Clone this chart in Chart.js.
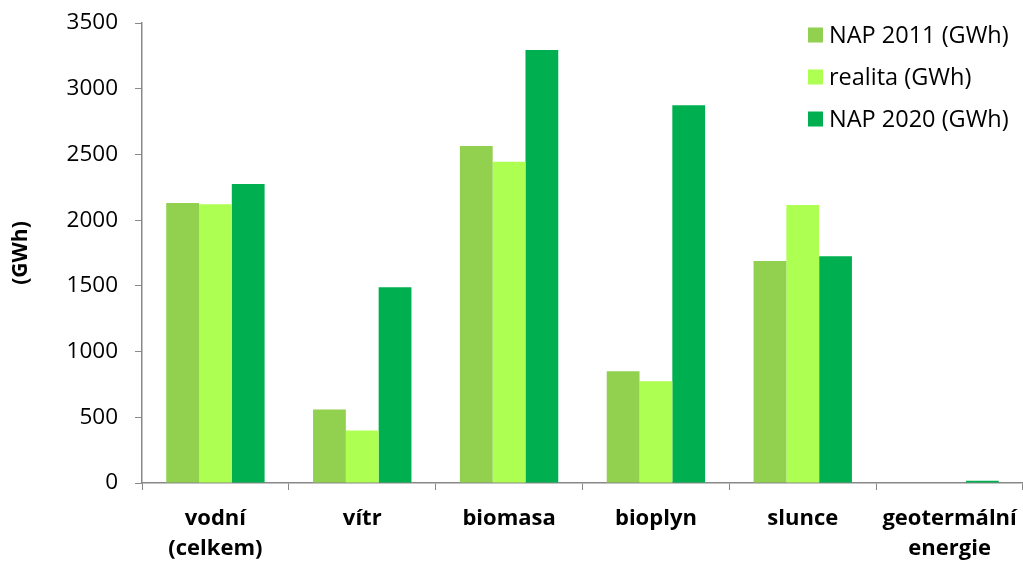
<!DOCTYPE html>
<html>
<head>
<meta charset="utf-8">
<script src="https://cdn.jsdelivr.net/npm/chart.js@4"></script>
<style>
html,body{margin:0;padding:0;background:#fff;}
#wrap{position:relative;width:1023px;height:561px;}
</style>
</head>
<body>
<div id="wrap"><canvas id="c" width="1023" height="561"></canvas></div>
<script>
const categories = [['vodní','(celkem)'], 'vítr', 'biomasa', 'bioplyn', 'slunce', ['geotermální','energie']];
const seriesNames = ['NAP 2011 (GWh)', 'realita (GWh)', 'NAP 2020 (GWh)'];
const nap2011 = [2130, 560, 2565, 850, 1690, 0];
const realita = [2120, 400, 2445, 775, 2115, 0];
const nap2020 = [2275, 1490, 3295, 2875, 1725, 18];
const yTicks = [0, 500, 1000, 1500, 2000, 2500, 3000, 3500];
const yTitle = '(GWh)';
const colors = ['#92D050', '#ADFF52', '#00B050'];

const FONT = "'Open Sans', sans-serif";

const customLegend = {
  id: 'customLegend',
  afterDraw(chart) {
    const ctx = chart.ctx;
    ctx.save();
    ctx.font = '23.5px ' + FONT;
    ctx.textBaseline = 'middle';
    ctx.textAlign = 'left';
    const x0 = 808, y0 = 35, gap = 42, box = 15;
    chart.data.datasets.forEach((ds, i) => {
      const y = y0 + i * gap;
      ctx.fillStyle = ds.backgroundColor;
      ctx.fillRect(x0, y - box / 2, box, box);
      ctx.fillStyle = '#000';
      ctx.fillText(ds.label, x0 + 21, y + 1);
    });
    ctx.restore();
  }
};

const data = {
  labels: categories,
  datasets: [nap2011, realita, nap2020].map((vals, i) => ({
    label: seriesNames[i],
    data: vals,
    backgroundColor: colors[i],
    borderWidth: 0,
    categoryPercentage: 0.67,
    barPercentage: 1.0
  }))
};

new Chart(document.getElementById('c'), {
  type: 'bar',
  data: data,
  plugins: [customLegend],
  options: {
    responsive: false,
    animation: false,
    devicePixelRatio: 1,
    layout: { padding: { top: 23, right: -4, bottom: 0, left: 0 } },
    plugins: { legend: { display: false }, tooltip: { enabled: false } },
    scales: {
      x: {
        grid: { display: true, drawOnChartArea: false, offset: true, tickLength: 7, color: '#888' },
        border: { display: true, color: '#888', width: 1.5 },
        ticks: { color: '#000', font: { family: FONT, size: 22, weight: 'bold', lineHeight: 1.36 }, padding: 14, maxRotation: 0, autoSkip: false },
        afterFit(scale) { scale.height = 78; scale.paddingLeft = 0; scale.paddingRight = 0; }
      },
      y: {
        min: 0, max: 3500,
        afterBuildTicks(scale) { scale.ticks = yTicks.map(v => ({ value: v })); },
        grid: { display: true, drawOnChartArea: false, tickLength: 7, color: '#888' },
        border: { display: true, color: '#888', width: 1.5 },
        ticks: { color: '#000', font: { family: FONT, size: 22.5 }, padding: 17, callback: (v) => String(v) },
        title: { display: true, text: yTitle, color: '#000', font: { family: FONT, size: 21, weight: 'bold' }, padding: { top: 8, bottom: 0 } },
        afterFit(scale) { scale.width = 142; scale.paddingTop = 0; scale.paddingBottom = 0; }
      }
    }
  }
});
</script>
</body>
</html>
